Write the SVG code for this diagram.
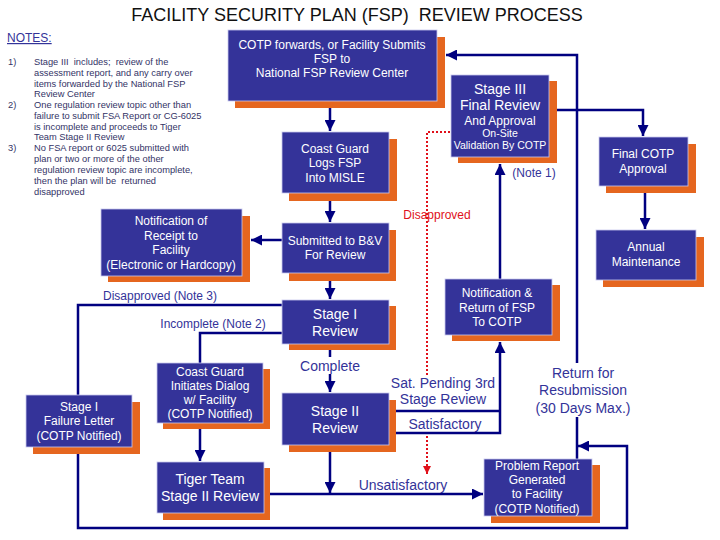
<svg xmlns="http://www.w3.org/2000/svg" width="720" height="540" viewBox="0 0 720 540">
<style>
text{white-space:pre}
.sh{fill:#e5661f}
.bx{fill:#343399;stroke:#c8c8ee;stroke-width:0.8}
.t{font-family:"Liberation Sans",Arial,sans-serif;fill:#fff;text-anchor:middle;font-size:12px}
.tl{font-size:14px}
.ts{font-size:10.5px}
.ln{fill:none;stroke:#000080;stroke-width:2.5}
.rd{fill:none;stroke:#e0101a;stroke-width:2;stroke-dasharray:2 2}
.lb{font-family:"Liberation Sans",Arial,sans-serif;fill:#333399;text-anchor:middle;font-size:12px}
.lg{font-size:14px}
.nt{font-family:"Liberation Sans",Arial,sans-serif;fill:#333366;font-size:9.3px}
</style>
<defs>
<marker id="ar" viewBox="0 0 10 10" refX="10" refY="5" markerWidth="4.4" markerHeight="4.4" orient="auto" markerUnits="strokeWidth"><path d="M0,0L10,5L0,10z" fill="#000080"/></marker>
<marker id="arr" viewBox="0 0 10 10" refX="10" refY="5" markerWidth="4" markerHeight="4" orient="auto" markerUnits="strokeWidth"><path d="M0,0L10,5L0,10z" fill="#e0101a"/></marker>
</defs>
<rect width="720" height="540" fill="#fff"/>
<text x="357" y="21" font-family="'Liberation Sans',Arial,sans-serif" font-size="18" fill="#111" text-anchor="middle">FACILITY SECURITY PLAN (FSP)  REVIEW PROCESS</text>
<g id="notes">
<text x="7" y="42" font-family="'Liberation Sans',Arial,sans-serif" font-size="12" fill="#333399" text-decoration="underline">NOTES:</text>
<text class="nt" x="8" y="65">1)</text>
<text class="nt" x="34" y="65">Stage III  includes;  review of the</text>
<text class="nt" x="34" y="76">assessment report, and any carry over</text>
<text class="nt" x="34" y="87">items forwarded by the National FSP</text>
<text class="nt" x="34" y="97">Review Center</text>
<text class="nt" x="8" y="108">2)</text>
<text class="nt" x="34" y="108">One regulation review topic other than</text>
<text class="nt" x="34" y="119">failure to submit FSA Report or CG-6025</text>
<text class="nt" x="34" y="130">is incomplete and proceeds to Tiger</text>
<text class="nt" x="34" y="140">Team Stage II Review</text>
<text class="nt" x="8" y="151">3)</text>
<text class="nt" x="34" y="151">No FSA report or 6025 submitted with</text>
<text class="nt" x="34" y="162">plan or two or more of the other</text>
<text class="nt" x="34" y="173">regulation review topic are incomplete,</text>
<text class="nt" x="34" y="184">then the plan will be  returned</text>
<text class="nt" x="34" y="195">disapproved</text>
</g>
<g id="connectors">
<path class="ln" d="M330,108V131" marker-end="url(#ar)"/>
<path class="ln" d="M330,201V222" marker-end="url(#ar)"/>
<path class="ln" d="M282,240H251" marker-end="url(#ar)"/>
<path class="ln" d="M330,281V299" marker-end="url(#ar)"/>
<path class="ln" d="M330,350V392" marker-end="url(#ar)"/>
<path class="ln" d="M282,305H78V395"/>
<path class="ln" d="M78,454V528H627V446H578" marker-end="url(#ar)"/>
<path class="ln" d="M282,333H200V363"/>
<path class="ln" d="M200,429V461" marker-end="url(#ar)"/>
<path class="ln" d="M270,494H483" marker-end="url(#ar)"/>
<path class="ln" d="M330,452V493" marker-end="url(#ar)"/>
<path class="ln" d="M396,411H500"/>
<path class="ln" d="M396,433H500V342" marker-end="url(#ar)"/>
<path class="ln" d="M500,279V164" marker-end="url(#ar)"/>
<path class="ln" d="M557,110H643V136" marker-end="url(#ar)"/>
<path class="ln" d="M645,193V229" marker-end="url(#ar)"/>
<path class="ln" d="M577,459V55H446" marker-end="url(#ar)"/>
<path class="rd" d="M450,132H427V377"/>
<path class="rd" d="M427,436V474" marker-end="url(#arr)"/>
<rect x="298" y="357" width="64" height="17" fill="#fff"/>
<text class="lb lg" x="330" y="371">Complete</text>
<rect x="537" y="363" width="94" height="54" fill="#fff"/>
<text class="lb lg" x="583" y="378">Return for</text>
<text class="lb lg" x="583" y="395">Resubmission</text>
<text class="lb lg" x="583" y="413">(30 Days Max.)</text>
<text class="lb" x="160" y="300">Disapproved (Note 3)</text>
<text class="lb" x="213" y="328">Incomplete (Note 2)</text>
<text class="lb lg" x="443" y="388">Sat. Pending 3rd</text>
<text class="lb lg" x="443" y="404">Stage Review</text>
<text class="lb lg" x="445" y="429">Satisfactory</text>
<text class="lb lg" x="403" y="490">Unsatisfactory</text>
<text class="lb" x="534" y="177">(Note 1)</text>
<text class="lb" x="437" y="219" style="fill:#e0101a">Disapproved</text>
</g>
<g id="cotp">
<rect class="sh" x="235" y="37" width="210" height="71"/><rect class="bx" x="228" y="30" width="209" height="71"/>
<text class="t" x="332" y="49">COTP forwards, or Facility Submits</text>
<text class="t" x="332" y="63">FSP to</text>
<text class="t" x="332" y="77">National FSP Review Center</text>
</g>
<g id="logs">
<rect class="sh" x="289" y="139" width="108" height="62"/><rect class="bx" x="282" y="132" width="107" height="61"/>
<text class="t" x="335" y="153">Coast Guard</text>
<text class="t" x="335" y="167">Logs FSP</text>
<text class="t" x="335" y="182">Into MISLE</text>
</g>
<g id="submitted">
<rect class="sh" x="289" y="230" width="107" height="51"/><rect class="bx" x="282" y="223" width="107" height="50"/>
<text class="t" x="335" y="245">Submitted to B&amp;V</text>
<text class="t" x="335" y="259">For Review</text>
</g>
<g id="receipt">
<rect class="sh" x="108" y="216" width="142" height="66"/><rect class="bx" x="101" y="209" width="141" height="67"/>
<text class="t" x="171" y="225">Notification of</text>
<text class="t" x="171" y="240">Receipt to</text>
<text class="t" x="171" y="254">Facility</text>
<text class="t" x="171" y="269">(Electronic or Hardcopy)</text>
</g>
<g id="stage1">
<rect class="sh" x="289" y="306" width="107" height="44"/><rect class="bx" x="282" y="300" width="107" height="44"/>
<text class="t tl" x="335" y="319">Stage I</text>
<text class="t tl" x="335" y="336">Review</text>
</g>
<g id="stage2">
<rect class="sh" x="289" y="400" width="107" height="52"/><rect class="bx" x="282" y="393" width="107" height="52"/>
<text class="t tl" x="335" y="416">Stage II</text>
<text class="t tl" x="335" y="433">Review</text>
</g>
<g id="dialog">
<rect class="sh" x="163" y="369" width="107" height="60"/><rect class="bx" x="157" y="363" width="106" height="60"/>
<text class="t" x="210" y="376">Coast Guard</text>
<text class="t" x="210" y="390">Initiates Dialog</text>
<text class="t" x="210" y="404">w/ Facility</text>
<text class="t" x="210" y="418">(COTP Notified)</text>
</g>
<g id="tiger">
<rect class="sh" x="163" y="468" width="107" height="52"/><rect class="bx" x="157" y="462" width="107" height="51"/>
<text class="t tl" x="210" y="484">Tiger Team</text>
<text class="t tl" x="210" y="501">Stage II Review</text>
</g>
<g id="failure">
<rect class="sh" x="33" y="402" width="107" height="52"/><rect class="bx" x="26" y="395" width="106" height="52"/>
<text class="t" x="79" y="411">Stage I</text>
<text class="t" x="79" y="425">Failure Letter</text>
<text class="t" x="79" y="440">(COTP Notified)</text>
</g>
<g id="stage3">
<rect class="sh" x="458" y="81" width="99" height="82"/><rect class="bx" x="451" y="75" width="98" height="82"/>
<text class="t tl" x="500" y="94">Stage III</text>
<text class="t tl" x="500" y="110">Final Review</text>
<text class="t" x="500" y="125">And Approval</text>
<text class="t ts" x="500" y="137">On-Site</text>
<text class="t ts" x="500" y="149">Validation By COTP</text>
</g>
<g id="finalcotp">
<rect class="sh" x="606" y="144" width="90" height="49"/><rect class="bx" x="599" y="137" width="89" height="49"/>
<text class="t" x="643" y="158">Final COTP</text>
<text class="t" x="643" y="173">Approval</text>
</g>
<g id="annual">
<rect class="sh" x="603" y="237" width="101" height="50"/><rect class="bx" x="596" y="230" width="100" height="50"/>
<text class="t" x="646" y="251">Annual</text>
<text class="t" x="646" y="266">Maintenance</text>
</g>
<g id="notifreturn">
<rect class="sh" x="452" y="285" width="108" height="56"/><rect class="bx" x="445" y="279" width="107" height="56"/>
<text class="t" x="497" y="297">Notification &amp;</text>
<text class="t" x="497" y="312">Return of FSP</text>
<text class="t" x="497" y="326">To COTP</text>
</g>
<g id="problem">
<rect class="sh" x="491" y="465" width="109" height="58"/><rect class="bx" x="484" y="459" width="108" height="57"/>
<text class="t" x="537" y="470">Problem Report</text>
<text class="t" x="537" y="484">Generated</text>
<text class="t" x="537" y="498">to Facility</text>
<text class="t" x="537" y="513">(COTP Notified)</text>
</g>
</svg>
